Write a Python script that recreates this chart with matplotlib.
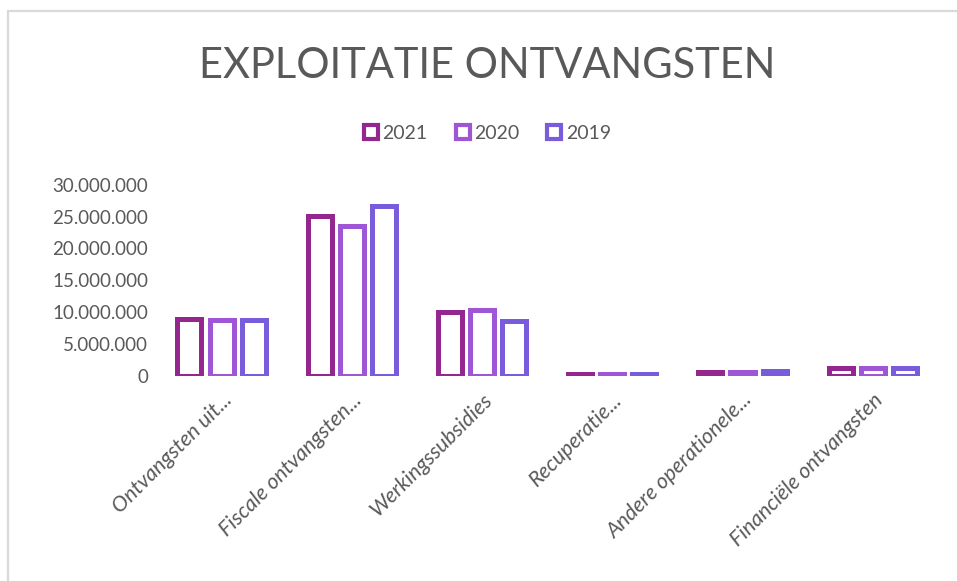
import matplotlib

matplotlib.use("Agg")
import matplotlib.pyplot as plt
from matplotlib.lines import Line2D
from matplotlib.patches import Rectangle
from matplotlib.ticker import FuncFormatter, MultipleLocator
import numpy as np

plt.rcParams["font.family"] = ["Lato", "DejaVu Sans"]

categories = [
    "Ontvangsten uit...",
    "Fiscale ontvangsten...",
    "Werkingssubsidies",
    "Recuperatie...",
    "Andere operationele...",
    "Financiële ontvangsten",
]
years = ["2021", "2020", "2019"]
values_2021 = [9.0e6, 25.1e6, 10.0e6, 0.35e6, 0.6e6, 1.3e6]
values_2020 = [8.8e6, 23.5e6, 10.4e6, 0.3e6, 0.6e6, 1.3e6]
values_2019 = [8.8e6, 26.7e6, 8.6e6, 0.3e6, 0.8e6, 1.3e6]
series = [values_2021, values_2020, values_2019]
colors = ["#93278F", "#9E56D6", "#785CDB"]
text_gray = "#595959"

fig = plt.figure(figsize=(9.57, 5.81), dpi=100)
ax = fig.add_axes([0.1635, 0.353, 0.8165, 0.329])

# chart frame (light gray border, top and left visible)
fig.patches.append(Rectangle((8 / 957, -0.01), 1.0, 1 - 11 / 581 + 0.01, transform=fig.transFigure,
                             fill=False, edgecolor="#D9D9D9", lw=1.6))

x = np.arange(len(categories))
pitch = 0.247
width = 0.185
for i, (vals, color) in enumerate(zip(series, colors)):
    ax.bar(x + (i - 1) * pitch, vals, width, facecolor="white", edgecolor=color, linewidth=3.6,
           zorder=3)

ax.set_xlim(-0.5, len(categories) - 0.5)
ax.set_ylim(0, 30e6)
ax.yaxis.set_major_locator(MultipleLocator(5e6))
ax.yaxis.set_major_formatter(FuncFormatter(lambda v, p: f"{int(v):,}".replace(",", ".")))
for s in ax.spines.values():
    s.set_visible(False)
ax.tick_params(axis="both", length=0, colors=text_gray, labelsize=13.5)
ax.tick_params(axis="y", pad=6)
ax.set_xticks(x)
ax.set_xticklabels(categories, rotation=45, ha="right", rotation_mode="anchor", fontsize=15.5,
                   style="italic", color=text_gray)
ax.tick_params(axis="x", pad=10)

fig.text(0.509, 0.886, "EXPLOITATIE ONTVANGSTEN", ha="center", va="center", fontsize=30,
         color=text_gray)

handles = [
    Line2D([], [], marker="s", ls="", ms=10, markerfacecolor="white", markeredgecolor=c,
           markeredgewidth=3.0, label=y)
    for y, c in zip(years, colors)
]
fig.legend(handles=handles, loc="center", bbox_to_anchor=(0.509, 0.771), ncol=3, frameon=False,
           fontsize=14, handlelength=0.8, handletextpad=0.2, columnspacing=1.4,
           labelcolor=text_gray)

fig.savefig("out.png", dpi=100)
